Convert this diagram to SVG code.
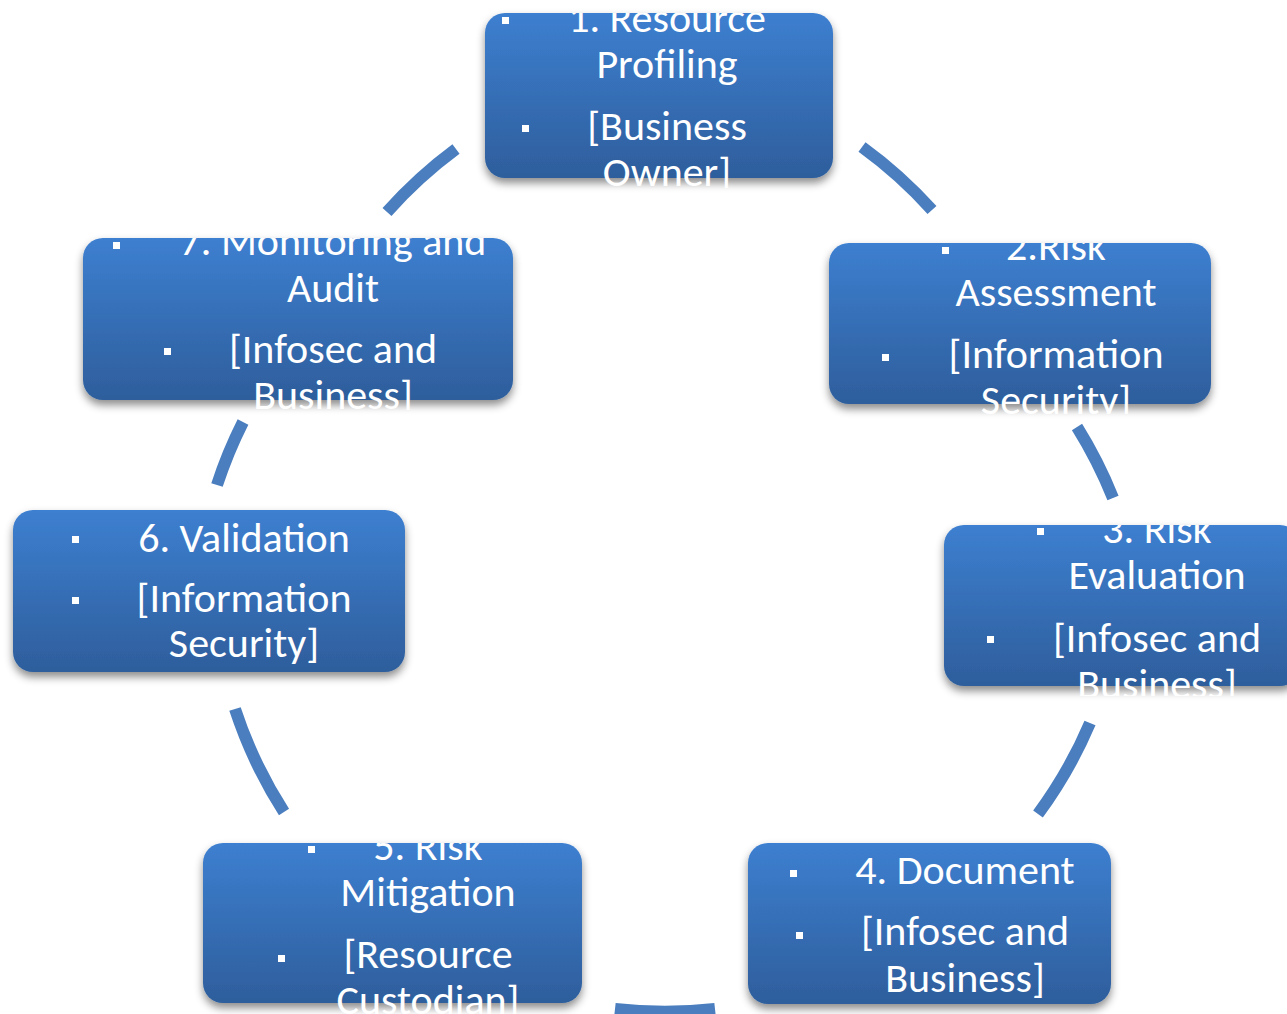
<svg xmlns="http://www.w3.org/2000/svg" width="1287" height="1014" viewBox="0 0 1287 1014">
<defs>
<linearGradient id="g" x1="0" y1="0" x2="0" y2="1">
<stop offset="0" stop-color="#3d7fd0"/>
<stop offset="1" stop-color="#2e5e9c"/>
</linearGradient>
<filter id="sh" x="-10%" y="-10%" width="120%" height="130%">
<feDropShadow dx="0" dy="5" stdDeviation="4" flood-color="#000" flood-opacity="0.45"/>
</filter>
<clipPath id="c1"><rect x="480" y="13" width="360" height="175"/></clipPath>
<clipPath id="c2"><rect x="820" y="243" width="400" height="171"/></clipPath>
<clipPath id="c3"><rect x="940" y="525" width="360" height="171"/></clipPath>
<clipPath id="c4"><rect x="740" y="843" width="380" height="171"/></clipPath>
<clipPath id="c5"><rect x="195" y="843" width="395" height="171"/></clipPath>
<clipPath id="c6"><rect x="5" y="510" width="410" height="172"/></clipPath>
<clipPath id="c7"><rect x="75" y="238" width="450" height="172"/></clipPath>
</defs>
<style>
.box{fill:url(#g);filter:url(#sh)}
.t{fill:#fff;font-family:Carlito,Lato,"Liberation Sans",sans-serif;font-size:42px;text-anchor:middle}
.b{fill:#fff}
.arc{fill:none;stroke:#4a7ebf;stroke-width:12}
</style>
<g id="connectors">
<path class="arc" d="M 862 147 A 450 450 0 0 1 932 210"/>
<path class="arc" d="M 1077 427 A 450 450 0 0 1 1113 498"/>
<path class="arc" d="M 1090 723 A 450 450 0 0 1 1038 814"/>
<path class="arc" d="M 715 1009 A 450 450 0 0 1 615 1009"/>
<path class="arc" d="M 284 812 A 450 450 0 0 1 235 709"/>
<path class="arc" d="M 217 485 A 450 450 0 0 1 243 422"/>
<path class="arc" d="M 387 212 A 450 450 0 0 1 456 149"/>
</g>
<g id="node1">
<rect class="box" x="485" y="13" width="348" height="165" rx="20"/>
<g clip-path="url(#c1)">
<rect class="b" x="502" y="17" width="7" height="7"/>
<text class="t" x="667" y="32">1. Resource</text>
<text class="t" x="667" y="78">Profiling</text>
<rect class="b" x="522" y="125" width="7" height="7"/>
<text class="t" x="667" y="140">[Business</text>
<text class="t" x="667" y="186">Owner]</text>
</g>
</g>
<g id="node2">
<rect class="box" x="829" y="243" width="382" height="161" rx="20"/>
<g clip-path="url(#c2)">
<rect class="b" x="942" y="247" width="7" height="7"/>
<text class="t" x="1056" y="260">2.Risk</text>
<text class="t" x="1056" y="306">Assessment</text>
<rect class="b" x="882" y="354" width="7" height="7"/>
<text class="t" x="1056" y="368">[Information</text>
<text class="t" x="1056" y="414">Security]</text>
</g>
</g>
<g id="node3">
<rect class="box" x="944" y="525" width="356" height="161" rx="20"/>
<g clip-path="url(#c3)">
<rect class="b" x="1037" y="528" width="7" height="7"/>
<text class="t" x="1157" y="543">3. Risk</text>
<text class="t" x="1157" y="589">Evaluation</text>
<rect class="b" x="987" y="636" width="7" height="7"/>
<text class="t" x="1157" y="652">[Infosec and</text>
<text class="t" x="1157" y="698">Business]</text>
</g>
</g>
<g id="node4">
<rect class="box" x="748" y="843" width="363" height="161" rx="20"/>
<g clip-path="url(#c4)">
<rect class="b" x="790" y="870" width="7" height="7"/>
<text class="t" x="965" y="884">4. Document</text>
<rect class="b" x="796" y="932" width="7" height="7"/>
<text class="t" x="965" y="945">[Infosec and</text>
<text class="t" x="965" y="992">Business]</text>
</g>
</g>
<g id="node5">
<rect class="box" x="203" y="843" width="379" height="160" rx="20"/>
<g clip-path="url(#c5)">
<rect class="b" x="308" y="846" width="7" height="7"/>
<text class="t" x="428" y="860">5. Risk</text>
<text class="t" x="428" y="906">Mitigation</text>
<rect class="b" x="278" y="955" width="7" height="7"/>
<text class="t" x="428" y="968">[Resource</text>
<text class="t" x="428" y="1014">Custodian]</text>
</g>
</g>
<g id="node6">
<rect class="box" x="13" y="510" width="392" height="162" rx="20"/>
<g clip-path="url(#c6)">
<rect class="b" x="72" y="536" width="7" height="7"/>
<text class="t" x="244" y="552">6. Validation</text>
<rect class="b" x="72" y="597" width="7" height="7"/>
<text class="t" x="244" y="612">[Information</text>
<text class="t" x="244" y="657">Security]</text>
</g>
</g>
<g id="node7">
<rect class="box" x="83" y="238" width="430" height="162" rx="20"/>
<g clip-path="url(#c7)">
<rect class="b" x="113" y="242" width="7" height="7"/>
<text class="t" x="333" y="255">7. Monitoring and</text>
<text class="t" x="333" y="302">Audit</text>
<rect class="b" x="164" y="348" width="7" height="7"/>
<text class="t" x="333" y="363">[Infosec and</text>
<text class="t" x="333" y="409">Business]</text>
</g>
</g>
</svg>
